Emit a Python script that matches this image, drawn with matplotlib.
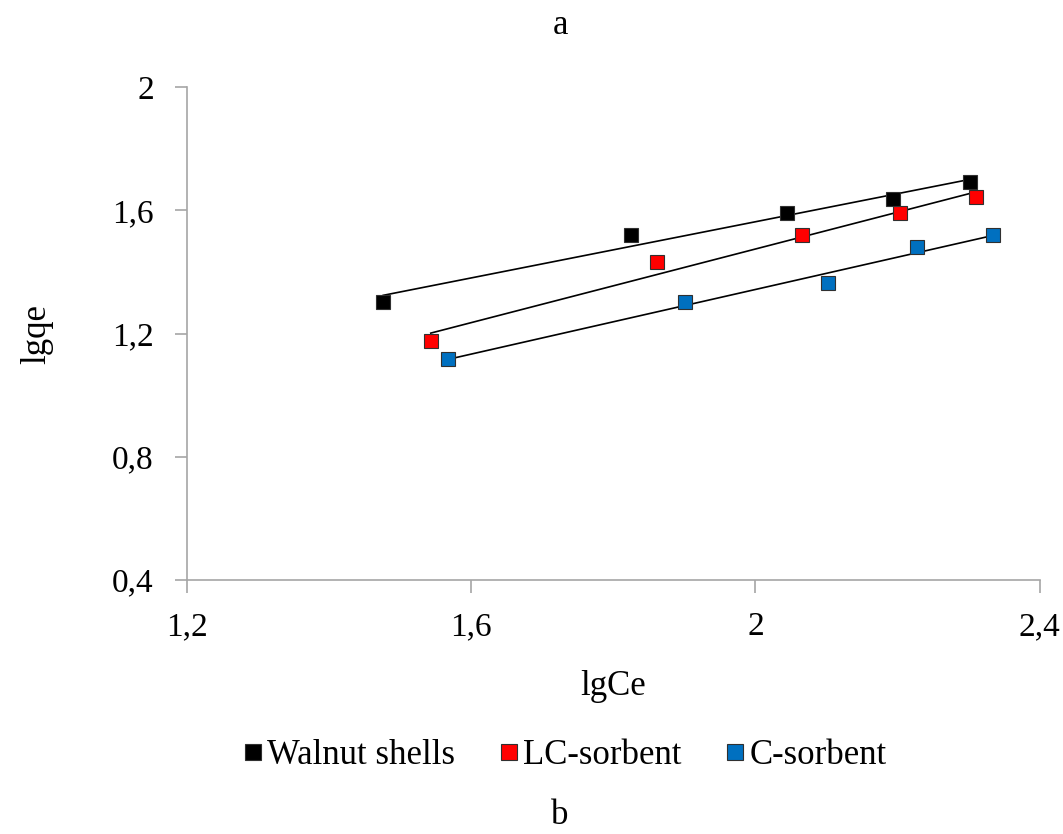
import numpy as np
import matplotlib
matplotlib.use('Agg')
import matplotlib.pyplot as plt

plt.rcParams['font.family'] = ['Liberation Serif', 'DejaVu Serif']

# data
walnut_x = [1.476, 1.825, 2.044, 2.193, 2.302]
walnut_y = [1.302, 1.520, 1.591, 1.636, 1.692]
lc_x = [1.543, 1.861, 2.065, 2.204, 2.311]
lc_y = [1.176, 1.432, 1.520, 1.591, 1.643]
c_x = [1.567, 1.901, 2.102, 2.228, 2.334]
c_y = [1.117, 1.302, 1.364, 1.481, 1.520]

series_names = ['Walnut shells', 'LC-sorbent', 'C-sorbent']
series_colors = ['#000000', '#FF0000', '#0070C0']
x_ticks = [1.2, 1.6, 2.0, 2.4]
x_labels = ['1,2', '1,6', '2', '2,4']
y_ticks = [0.4, 0.8, 1.2, 1.6, 2.0]
y_labels = ['0,4', '0,8', '1,2', '1,6', '2']

fig = plt.figure(figsize=(10.63, 8.34), dpi=100)
ax = fig.add_axes([0.176, 0.3046, 0.802, 0.591])

axis_gray = '#a6a6a6'
for xs, ys, name, col in zip([walnut_x, lc_x, c_x], [walnut_y, lc_y, c_y],
                             series_names, series_colors):
    xs = np.array(xs)
    ys = np.array(ys)
    # linear trendline
    k, b = np.polyfit(xs, ys, 1)
    xl = np.array([xs.min(), xs.max()])
    ax.plot(xl, k * xl + b, color='black', linewidth=1.2, zorder=2)
    ax.plot(xs, ys, linestyle='none', marker='s', markersize=10.5,
            markerfacecolor=col, markeredgecolor='#303030', markeredgewidth=0.8,
            label=name, zorder=3)

ax.set_xlim(1.2, 2.4)
ax.set_ylim(0.4, 2.0)
ax.set_xticks(x_ticks)
ax.set_xticklabels(x_labels)
ax.set_yticks(y_ticks)
ax.set_yticklabels(y_labels)

for s in ['top', 'right']:
    ax.spines[s].set_visible(False)
for s in ['left', 'bottom']:
    ax.spines[s].set_color(axis_gray)
    ax.spines[s].set_linewidth(1.2)
ax.tick_params(axis='both', direction='out', length=9, width=1.2, color=axis_gray,
               labelsize=24)
ax.tick_params(axis='y', pad=15)
ax.tick_params(axis='x', pad=14)

ax.set_xlabel('lgCe', fontsize=25, labelpad=20)
ax.set_ylabel('lgqe', fontsize=25, labelpad=42)

fig.text(0.527, 0.97, 'a', fontsize=25, ha='center', va='center')
fig.text(0.527, 0.022, 'b', fontsize=25, ha='center', va='center')

fig.legend(loc='center', bbox_to_anchor=(0.532, 0.094), ncol=3, frameon=False,
           fontsize=25, handlelength=0.5, handletextpad=0.15, columnspacing=1.3,
           markerscale=1.1)

plt.savefig('out.png', dpi=100)
